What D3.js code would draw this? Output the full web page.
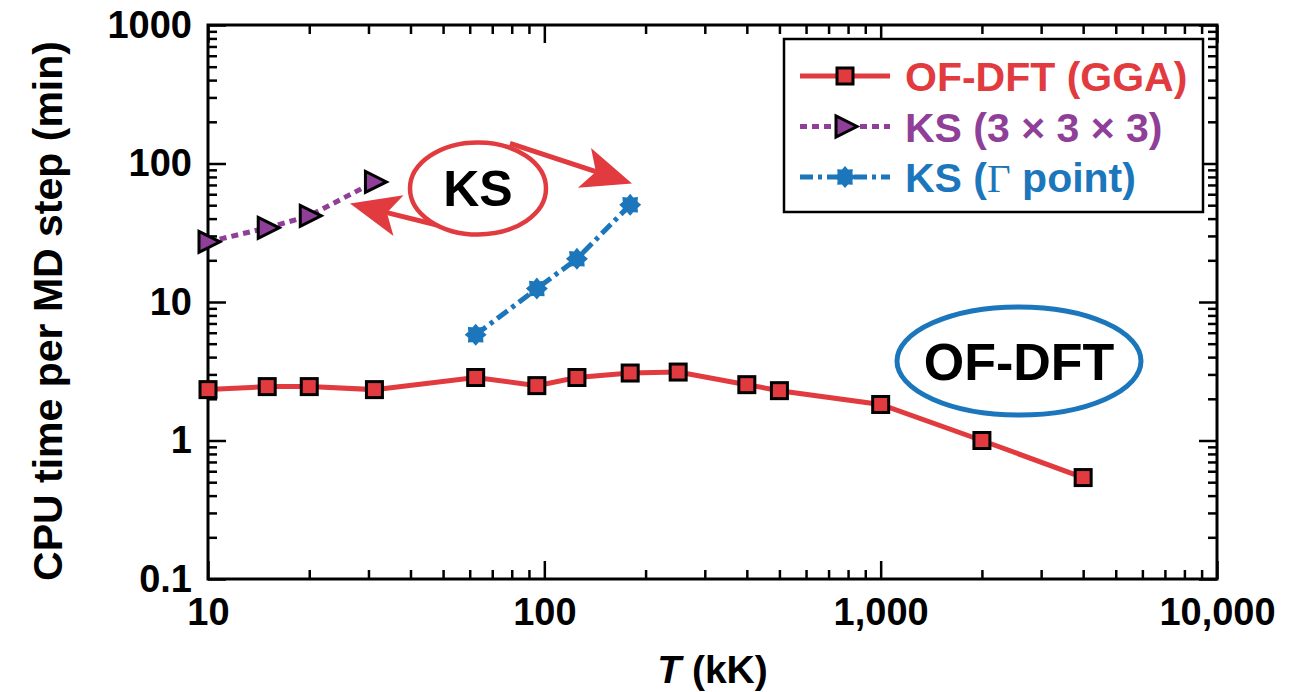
<!DOCTYPE html>
<html lang="en">
<head>
  <meta charset="UTF-8">
  <title>CPU time per MD step vs T</title>
  <style>
    body {
      margin: 0;
      background-color: #ffffff;
    }
    svg text {
      font-family: 'Liberation Sans', Arial, Helvetica, sans-serif;
      font-weight: 700;
    }
    .tick line {
      stroke: #000;
      stroke-width: 2.5;
    }
    .tick text {
      font-size: 38px;
      fill: #000;
    }
  </style>
</head>
<body>
  <div id="chart"></div>

  <script src="https://d3js.org/d3.v7.min.js"></script>
  <script>
    // Temperatures (kK) and CPU time per MD step (min)
    const tOfdft = [10, 15, 20, 31.25, 62.5, 95, 125, 180, 250, 400, 500, 1000, 2000, 4000];
    const cpuOfdft = [2.33, 2.45, 2.45, 2.33, 2.85, 2.49, 2.85, 3.07, 3.12, 2.53, 2.29, 1.82, 1.0, 0.54];

    const tKs333 = [10, 15, 20, 31.25];
    const cpuKs333 = [27.2, 34.3, 41.9, 73.6];

    const tKsGamma = [62.5, 95, 125, 180];
    const cpuKsGamma = [5.8, 12.5, 20.5, 50.3];

    const xTicks = [10, 100, 1000, 10000];
    const xTickLabels = ['10', '100', '1,000', '10,000'];
    const yTicks = [0.1, 1, 10, 100, 1000];
    const yTickLabels = ['0.1', '1', '10', '100', '1000'];

    const seriesNames = ['OF-DFT (GGA)', 'KS (3 \u00d7 3 \u00d7 3)', 'KS (\u0393 point)'];
    const colors = ['#e13a3f', '#8f3f98', '#1b76bc'];

    const width = 1310;
    const height = 692;
    const margin = { top: 25, right: 93, bottom: 113, left: 208 };

    const svg = d3.select('#chart').append('svg')
      .attr('width', width)
      .attr('height', height);

    const x = d3.scaleLog().domain([10, 10000]).range([margin.left, width - margin.right]);
    const y = d3.scaleLog().domain([0.1, 1000]).range([height - margin.bottom, margin.top]);

    // minor tick values for each decade
    function minorTicks(lo, hi) {
      const out = [];
      for (let p = lo; p < hi; p *= 10) {
        for (let k = 2; k <= 9; k++) out.push(p * k);
      }
      return out;
    }
    const xMinor = minorTicks(10, 10000);
    const yMinor = minorTicks(0.1, 1000);

    const bottomY = height - margin.bottom;
    const rightX = width - margin.right;

    // axes (ticks point inward on all four sides)
    svg.append('g')
      .attr('transform', `translate(0,${bottomY})`)
      .call(d3.axisBottom(x).tickValues(xTicks).tickFormat((d, i) => xTickLabels[i]).tickSize(-18).tickPadding(19))
      .call(g => g.select('.domain').remove());
    svg.append('g')
      .attr('transform', `translate(0,${bottomY})`)
      .call(d3.axisBottom(x).tickValues(xMinor).tickFormat('').tickSize(-9))
      .call(g => g.select('.domain').remove());
    svg.append('g')
      .attr('transform', `translate(0,${margin.top})`)
      .call(d3.axisTop(x).tickValues(xTicks).tickFormat('').tickSize(-18))
      .call(g => g.select('.domain').remove());
    svg.append('g')
      .attr('transform', `translate(0,${margin.top})`)
      .call(d3.axisTop(x).tickValues(xMinor).tickFormat('').tickSize(-9))
      .call(g => g.select('.domain').remove());

    svg.append('g')
      .attr('transform', `translate(${margin.left},0)`)
      .call(d3.axisLeft(y).tickValues(yTicks).tickFormat((d, i) => yTickLabels[i]).tickSize(-18).tickPadding(16))
      .call(g => g.select('.domain').remove());
    svg.append('g')
      .attr('transform', `translate(${margin.left},0)`)
      .call(d3.axisLeft(y).tickValues(yMinor).tickFormat('').tickSize(-9))
      .call(g => g.select('.domain').remove());
    svg.append('g')
      .attr('transform', `translate(${rightX},0)`)
      .call(d3.axisRight(y).tickValues(yTicks).tickFormat('').tickSize(-18))
      .call(g => g.select('.domain').remove());
    svg.append('g')
      .attr('transform', `translate(${rightX},0)`)
      .call(d3.axisRight(y).tickValues(yMinor).tickFormat('').tickSize(-9))
      .call(g => g.select('.domain').remove());

    svg.selectAll('.tick text').attr('font-size', 38);

    // frame
    svg.append('rect')
      .attr('x', margin.left)
      .attr('y', margin.top)
      .attr('width', rightX - margin.left)
      .attr('height', bottomY - margin.top)
      .attr('fill', 'none')
      .attr('stroke', '#000')
      .attr('stroke-width', 3);

    // axis titles
    svg.append('text')
      .attr('transform', `translate(62,${(margin.top + bottomY) / 2 + 9}) rotate(-90)`)
      .attr('text-anchor', 'middle')
      .attr('font-size', 41)
      .text('CPU time per MD step (min)');

    const xTitle = svg.append('text')
      .attr('x', (margin.left + rightX) / 2)
      .attr('y', 683)
      .attr('text-anchor', 'middle')
      .attr('font-size', 39);
    xTitle.append('tspan').attr('font-style', 'italic').text('T');
    xTitle.append('tspan').text(' (kK)');

    // markers
    function drawSquare(sel, color) {
      sel.append('rect')
        .attr('x', -8).attr('y', -8).attr('width', 16).attr('height', 16)
        .attr('fill', color).attr('stroke', '#000').attr('stroke-width', 3);
    }
    function drawTriangle(sel, color) {
      sel.append('path')
        .attr('d', 'M-9,-10.5L-9,10.5L12,0Z')
        .attr('fill', color).attr('stroke', '#000').attr('stroke-width', 3)
        .attr('stroke-linejoin', 'miter');
    }
    function drawStar(sel, color) {
      const pts = d3.range(16).map(i => {
        const a = i * Math.PI / 8;
        const r = i % 2 === 0 ? 11 : 8;
        return [r * Math.cos(a), r * Math.sin(a)];
      });
      sel.append('path')
        .attr('d', 'M' + pts.join('L') + 'Z')
        .attr('fill', color);
    }

    const series = [
      { t: tOfdft, v: cpuOfdft, dash: null, marker: drawSquare },
      { t: tKs333, v: cpuKs333, dash: '7,5', marker: drawTriangle },
      { t: tKsGamma, v: cpuKsGamma, dash: '13,5,4,5', marker: drawStar }
    ];

    const line = d3.line().x(d => x(d[0])).y(d => y(d[1]));

    series.forEach((s, i) => {
      const pts = s.t.map((t, j) => [t, s.v[j]]);
      svg.append('path')
        .datum(pts)
        .attr('d', line)
        .attr('fill', 'none')
        .attr('stroke', colors[i])
        .attr('stroke-width', 5)
        .attr('stroke-dasharray', s.dash);
      svg.selectAll('.pt' + i)
        .data(pts)
        .enter().append('g')
        .attr('class', 'pt' + i)
        .attr('transform', d => `translate(${x(d[0])},${y(d[1])})`)
        .each(function() { s.marker(d3.select(this), colors[i]); });
    });

    // legend
    const legend = svg.append('g');
    legend.append('rect')
      .attr('x', 784).attr('y', 39).attr('width', 419).attr('height', 173)
      .attr('fill', '#fff').attr('stroke', '#000').attr('stroke-width', 2.5);
    seriesNames.forEach((name, i) => {
      const ly = 76 + i * 50.5;
      const row = legend.append('g').attr('transform', `translate(0,${ly})`);
      row.append('line')
        .attr('x1', 800).attr('x2', 890).attr('y1', 0).attr('y2', 0)
        .attr('stroke', colors[i]).attr('stroke-width', 5)
        .attr('stroke-dasharray', series[i].dash);
      const m = row.append('g').attr('transform', 'translate(845,0)');
      series[i].marker(m, colors[i]);
      const txt = row.append('text')
        .attr('x', 905).attr('y', 15)
        .attr('font-size', 41)
        .attr('fill', colors[i]);
      if (i === 2) {
        txt.append('tspan').text('KS (');
        txt.append('tspan')
          .attr('font-family', "'Liberation Serif', 'DejaVu Serif', serif")
          .attr('font-weight', 400)
          .text('\u0393');
        txt.append('tspan').text(' point)');
      } else {
        txt.text(name);
      }
    });

    // annotations: KS ellipse with two arrows, OF-DFT ellipse
    function arrow(x0, y0, x1, y1, color) {
      const dx = x1 - x0, dy = y1 - y0;
      const len = Math.hypot(dx, dy);
      const ux = dx / len, uy = dy / len;
      const nx = -uy, ny = ux;
      const L = 50, W = 21, N = 38;
      const bx = x1 - ux * L, by = y1 - uy * L;
      const notch = [x1 - ux * N, y1 - uy * N];
      svg.append('line')
        .attr('x1', x0).attr('y1', y0).attr('x2', notch[0]).attr('y2', notch[1])
        .attr('stroke', color).attr('stroke-width', 5);
      svg.append('path')
        .attr('d', `M${x1},${y1}L${bx + nx * W},${by + ny * W}L${notch[0]},${notch[1]}L${bx - nx * W},${by - ny * W}Z`)
        .attr('fill', color);
    }

    const ksC = [x(63.5), y(66)];
    arrow(ksC[0] - 15, ksC[1] + 43, ksC[0] - 128, ksC[1] + 15, colors[0]);
    arrow(ksC[0] + 32, ksC[1] - 45, ksC[0] + 154, ksC[1] - 5, colors[0]);
    svg.append('ellipse')
      .attr('cx', ksC[0]).attr('cy', ksC[1]).attr('rx', 68).attr('ry', 46)
      .attr('fill', '#fff').attr('stroke', colors[0]).attr('stroke-width', 4.5);
    svg.append('text')
      .attr('x', ksC[0]).attr('y', ksC[1] + 18)
      .attr('text-anchor', 'middle').attr('font-size', 50)
      .text('KS');

    const ofC = [x(2578), y(3.75)];
    svg.append('ellipse')
      .attr('cx', ofC[0]).attr('cy', ofC[1]).attr('rx', 122).attr('ry', 54)
      .attr('fill', 'none').attr('stroke', colors[2]).attr('stroke-width', 5);
    svg.append('text')
      .attr('x', ofC[0]).attr('y', ofC[1] + 19)
      .attr('text-anchor', 'middle').attr('font-size', 52)
      .text('OF-DFT');
  </script>
</body>
</html>
